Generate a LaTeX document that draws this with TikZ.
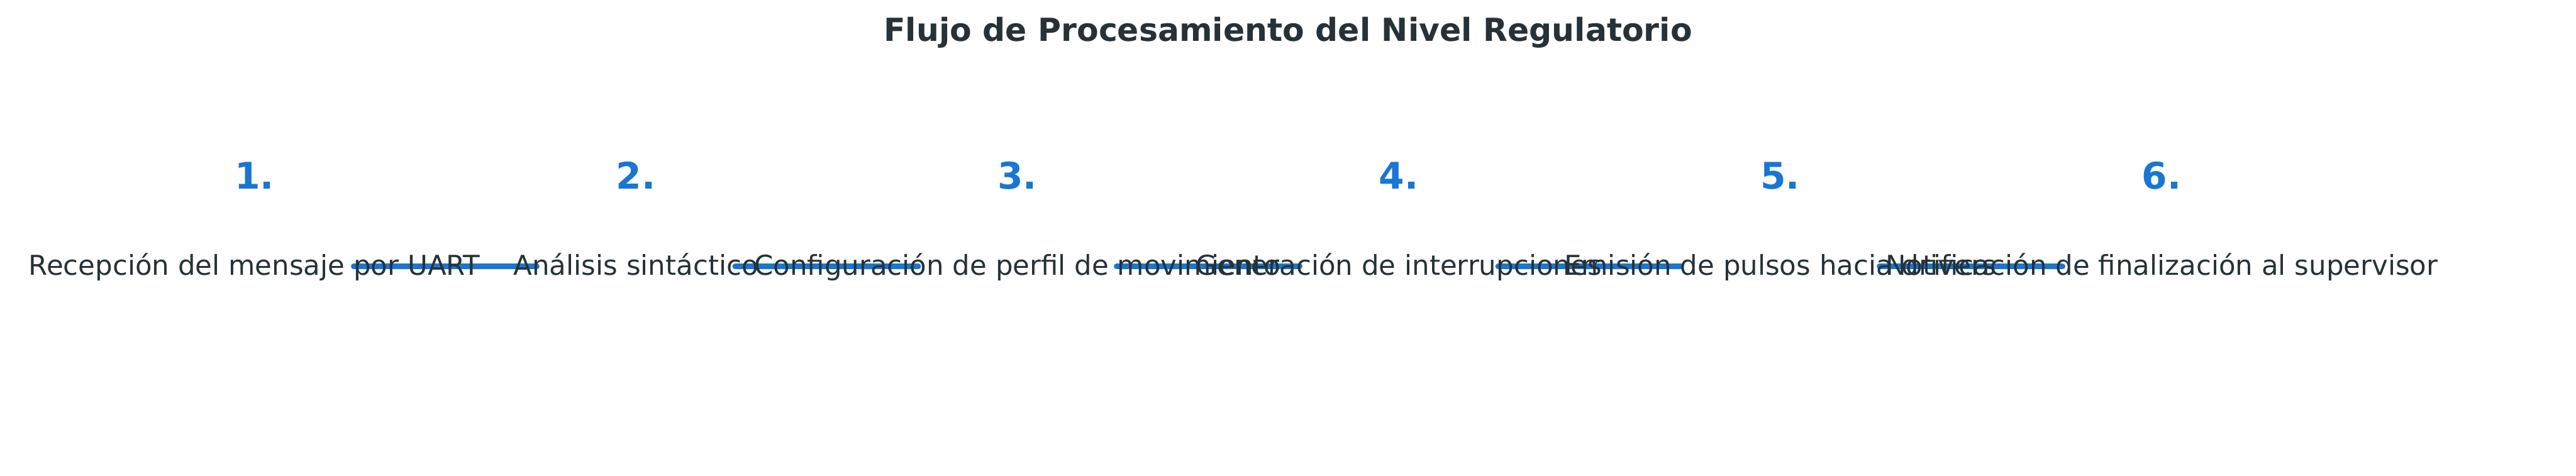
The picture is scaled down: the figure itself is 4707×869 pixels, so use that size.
\documentclass[tikz,border=0pt]{standalone}
\usepackage{fontspec}
\setmainfont{DejaVu Sans}
\usepackage{tikz}
\usetikzlibrary{
    positioning,                      % colocacion relativa
    calc,                             % aritmetica de coordenadas
    backgrounds                       % capas de fondo
}
\definecolor{texto_oscuro}{HTML}{263238}
\definecolor{azul_flujo}{HTML}{1976D2}
\tikzset{
    titulo/.style={
        font=\fontsize{11.6}{14}\selectfont\bfseries,
        text=texto_oscuro, anchor=base, inner sep=0pt
    },
    numero/.style={
        font=\fontsize{13.4}{16}\selectfont\bfseries,
        text=azul_flujo, anchor=base, inner sep=0pt
    },
    paso/.style={
        font=\fontsize{10}{12}\selectfont,
        text=texto_oscuro, anchor=base, inner sep=0pt
    },
    enlace/.style={
        draw=azul_flujo, line width=2pt, line cap=round
    }
}

\begin{document}
\begin{tikzpicture}[x=0.2pt, y=0.2pt]
    \useasboundingbox (0,0) rectangle (4707,869);

    \node[titulo] (titulo) at (2353.5,794)
        {Flujo de Procesamiento del Nivel Regulatorio};

    % --- Pasos del flujo ---
    \foreach \i/\texto [evaluate=\i as \xc using 465+697*(\i-1)] in {
        1/Recepción del mensaje por UART,
        2/Análisis sintáctico,
        3/Configuración de perfil de movimiento,
        4/Generación de interrupciones,
        5/Emisión de pulsos hacia drivers,
        6/Notificación de finalización al supervisor}
    {
        \coordinate (c\i) at (\xc,382);
        \node[numero] (num\i) at (\xc,524) {\i.};
        \node[paso] (paso\i) at (\xc,366) {\texto};
    }

    % --- Enlaces entre pasos (debajo del texto) ---
    \begin{scope}[on background layer]
        \foreach \i/\j in {1/2, 2/3, 3/4, 4/5, 5/6}
            \draw[enlace] ($(c\i)!0.26!(c\j)$) -- ($(c\i)!0.74!(c\j)$);
    \end{scope}
\end{tikzpicture}
\end{document}
